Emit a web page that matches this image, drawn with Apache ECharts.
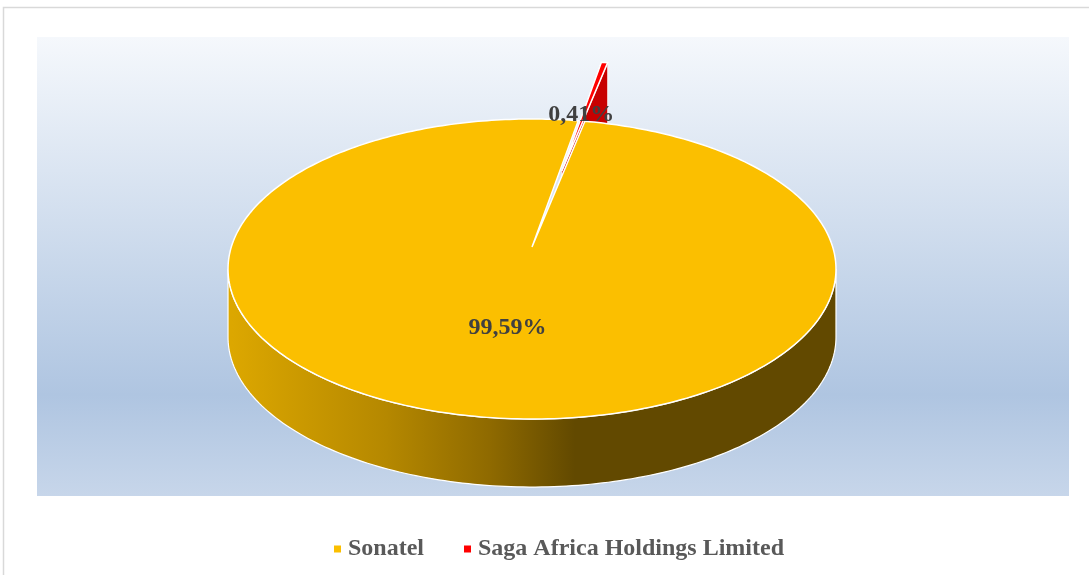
<!DOCTYPE html>
<html>
<head>
<meta charset="utf-8">
<script src="https://cdn.jsdelivr.net/npm/echarts@6/dist/echarts.min.js"></script>
<style>
  html, body { margin: 0; padding: 0; background: #fff; }
  #main { width: 1089px; height: 575px; }
</style>
</head>
<body>
<div id="main"></div>
<script>
// part des actionnaires
var names = ['Sonatel', 'Saga Africa Holdings Limited'];
var values = [99.59, 0.41];
var colors = ['#FBBF00', '#FF0000'];
var explode = [0, 0.57];

var total = values.reduce(function (a, b) { return a + b; }, 0);
var firstAngle = 11.6;
var starts = [];
var acc = firstAngle;
for (var i = 0; i < values.length; i++) {
    starts.push(acc);
    acc += values[i] / total * 360;
}

// pie 3d geometry (perspective)
var CX = 532, CY = 247, RX = 300.7, RY = 146.8, K = 0.1467, DEPTH = 68;
var SIDE = Math.acos(-K) * 180 / Math.PI;

function proj(r, deg, ox, oy) {
    var a = deg * Math.PI / 180;
    var u = r * Math.sin(a) + ox;
    var v = r * Math.cos(a) + oy;
    var d = 1 + K * v;
    return [CX + RX * u / d, CY - RY * v / d];
}
function down(p) { return [p[0], p[1] + DEPTH]; }

var wallFill = [
    new echarts.graphic.LinearGradient(232, 0, 575, 0, [
        { offset: 0, color: '#DCA700' },
        { offset: 0.45, color: '#B58800' },
        { offset: 0.75, color: '#8F6A00' },
        { offset: 1, color: '#624900' }
    ], true),
    '#C80000'
];

function sliceInfo(i) {
    var a0 = starts[i];
    var a1 = a0 + values[i] / total * 360;
    var mid = (a0 + a1) / 2 * Math.PI / 180;
    return { a0: a0, a1: a1, ox: explode[i] * Math.sin(mid), oy: explode[i] * Math.cos(mid) };
}

function makeRender(i) {
    return function (params, api) {
        var s = sliceInfo(i);
        var steps = Math.max(2, Math.ceil(s.a1 - s.a0));
        var arc = [];
        for (var k = 0; k <= steps; k++) {
            arc.push(proj(1, s.a0 + (s.a1 - s.a0) * k / steps, s.ox, s.oy));
        }
        var apex = proj(0, 0, s.ox, s.oy);
        var children = [];
        if (explode[i] > 0) {
            [arc[0], arc[arc.length - 1]].forEach(function (p) {
                children.push({
                    type: 'polygon',
                    shape: { points: [apex, p, down(p), down(apex)] },
                    style: { fill: wallFill[i], stroke: '#fff', lineWidth: 0.8 }
                });
            });
        }
        var w0 = Math.max(s.a0, SIDE);
        var w1 = Math.min(s.a1, 360 - SIDE);
        if (w1 > w0) {
            var top = [], bot = [];
            for (var t = w0; t <= w1 + 0.001; t += 1) {
                var p = proj(1, Math.min(t, w1), s.ox, s.oy);
                top.push(p);
                bot.unshift(down(p));
            }
            children.push({
                type: 'polygon',
                shape: { points: top.concat(bot) },
                style: { fill: wallFill[i], stroke: '#fff', lineWidth: 1.2 }
            });
        }
        children.push({
            type: 'polygon',
            shape: { points: [apex].concat(arc) },
            style: { fill: colors[i], stroke: '#fff', lineWidth: 1.5 }
        });
        return { type: 'group', children: children };
    };
}

var labelRadius = [0.5, 0.47];
var labelShift = [[6, 3], [-2, -2]];
function renderLabel(params, api) {
    var i = params.dataIndex;
    var s = sliceInfo(i);
    var p = proj(labelRadius[i], (s.a0 + s.a1) / 2, s.ox, s.oy);
    var txt = (values[i] / total * 100).toFixed(2).replace('.', ',') + '%';
    return {
        type: 'text',
        style: {
            text: txt,
            x: p[0] + labelShift[i][0],
            y: p[1] + labelShift[i][1],
            align: 'center',
            verticalAlign: 'middle',
            font: 'bold 24px "Liberation Serif", "Times New Roman", serif',
            fill: '#404040'
        }
    };
}

var series = [];
for (var j = values.length - 1; j >= 0; j--) {
    series.push({
        type: 'custom',
        name: names[j],
        coordinateSystem: 'none',
        z: 2 + (values.length - j),
        itemStyle: { color: colors[j] },
        renderItem: makeRender(j),
        data: [values[j]],
        silent: true
    });
}
series.push({
    type: 'custom',
    name: 'labels',
    coordinateSystem: 'none',
    z: 20,
    renderItem: renderLabel,
    data: values,
    silent: true
});

var option = {
    animation: false,
    backgroundColor: '#fff',
    graphic: [
        {
            type: 'rect', z: -10,
            shape: { x: 3.5, y: 7.5, width: 1200, height: 700 },
            style: { fill: '#fff', stroke: '#D9D9D9', lineWidth: 1.5 }
        },
        {
            type: 'rect', z: -9,
            shape: { x: 37, y: 37, width: 1032, height: 459 },
            style: {
                fill: new echarts.graphic.LinearGradient(0, 0, 0, 1, [
                    { offset: 0, color: '#F5F8FC' },
                    { offset: 0.78, color: '#AFC5E1' },
                    { offset: 1, color: '#C7D6EA' }
                ])
            }
        }
    ],
    legend: {
        data: names,
        left: 329,
        top: 532,
        icon: 'rect',
        itemWidth: 7,
        itemHeight: 7,
        itemGap: 40,
        textStyle: {
            fontFamily: '"Liberation Serif", "Times New Roman", serif',
            fontWeight: 'bold',
            fontSize: 24,
            color: '#595959',
            padding: [0, 0, 0, 2]
        }
    },
    series: series
};

var chart = echarts.init(document.getElementById('main'));
chart.setOption(option);
</script>
</body>
</html>
